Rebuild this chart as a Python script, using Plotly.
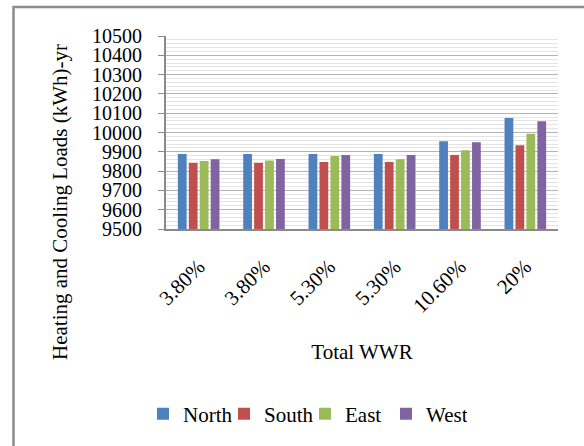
import plotly.graph_objects as go

# Window-to-wall ratio cases (x-axis) and annual loads per orientation
wwr_labels = ["3.80%", "3.80%", "5.30%", "5.30%", "10.60%", "20%"]
north = [9888, 9888, 9888, 9888, 9955, 10075]
south = [9843, 9843, 9847, 9847, 9883, 9934]
east = [9852, 9855, 9878, 9862, 9908, 9994]
west = [9862, 9863, 9883, 9883, 9950, 10058]

series = [
    ("North", north, "#4F81BD"),
    ("South", south, "#C0504D"),
    ("East", east, "#9BBB59"),
    ("West", west, "#8064A2"),
]

positions = list(range(len(wwr_labels)))
serif = "Liberation Serif, Times New Roman, serif"
fsize = 21

# plot area in pixels: x 166..558, y 36..229
L, R, T, B = 166, 558, 36, 229
W_PLOT, H_PLOT = R - L, B - T


def px_x(px):
    return (px - L) / W_PLOT


def px_y(py):
    return (B - py) / H_PLOT


fig = go.Figure()
for name, values, color in series:
    fig.add_trace(go.Bar(name=name, x=positions, y=values, marker=dict(color=color, line=dict(width=0))))

fig.update_layout(
    width=584,
    height=446,
    margin=dict(l=L, r=584 - R, t=T, b=446 - B),
    paper_bgcolor="white",
    plot_bgcolor="white",
    barmode="group",
    bargap=0.33,
    bargroupgap=0.2,
    font=dict(family=serif, size=fsize, color="black"),
    showlegend=True,
    legend=dict(
        orientation="h",
        x=px_x(143),
        xanchor="left",
        y=px_y(414),
        yanchor="middle",
        font=dict(family=serif, size=fsize, color="black"),
        itemwidth=30,
        entrywidth=36,
        entrywidthmode="pixels",
        bgcolor="rgba(0,0,0,0)",
    ),
    xaxis=dict(
        tickmode="array",
        tickvals=positions,
        ticktext=wwr_labels,
        tickangle=-45,
        range=[-0.5, len(wwr_labels) - 0.5],
        showline=True,
        linecolor="#8a8a8a",
        linewidth=2,
        ticks="",
        showgrid=False,
        zeroline=False,
        ticklabelstandoff=15,
        title=dict(text="Total WWR", standoff=28, font=dict(family=serif, size=fsize)),
    ),
    yaxis=dict(
        range=[9500, 10500],
        dtick=100,
        tick0=9500,
        tickformat="d",
        tickfont=dict(family=serif, size=20),
        showline=True,
        linecolor="#8a8a8a",
        linewidth=2,
        ticks="outside",
        ticklen=6,
        tickcolor="#8a8a8a",
        showgrid=True,
        gridcolor="#b4b4b4",
        gridwidth=1,
        zeroline=False,
        ticklabelstandoff=12,
        minor=dict(dtick=20, showgrid=True, gridcolor="#e4e4e4", gridwidth=1),
    ),
    annotations=[
        dict(
            text="Heating and Cooling Loads (kWh)-yr",
            xref="paper",
            yref="paper",
            x=px_x(60),
            y=px_y(202),
            xanchor="center",
            yanchor="middle",
            textangle=-90,
            showarrow=False,
            font=dict(family=serif, size=fsize, color="black"),
        )
    ],
    shapes=[
        dict(
            type="rect",
            xref="paper",
            yref="paper",
            x0=px_x(13.5),
            x1=px_x(600),
            y0=px_y(460),
            y1=px_y(7),
            line=dict(color="#8c8c8c", width=2.5),
            fillcolor="rgba(0,0,0,0)",
            layer="below",
        )
    ],
)

fig.write_html("out.html")
